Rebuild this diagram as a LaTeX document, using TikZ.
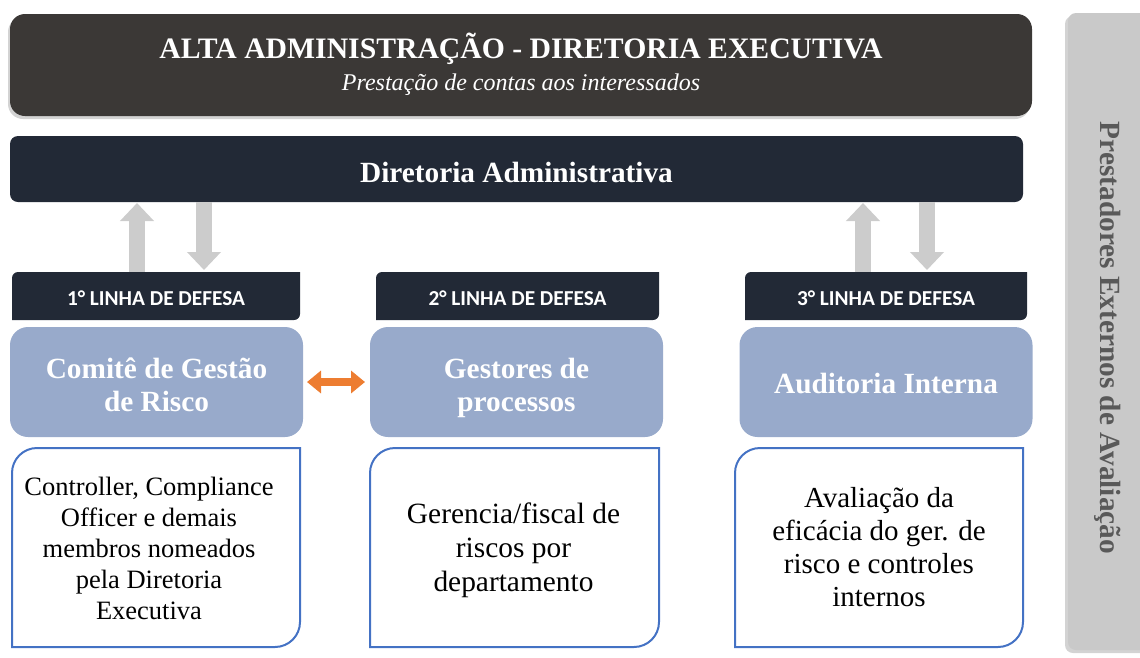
\documentclass[tikz,border=0pt]{standalone}
\usepackage{fontspec}
\setmainfont{Liberation Serif}
\newfontfamily\hdrfont{Carlito}
\usepackage{xcolor}
\definecolor{altagray}{RGB}{59, 56, 54}
\definecolor{admnavy}{RGB}{34, 41, 54}
\definecolor{lineblue}{RGB}{152, 170, 203}
\definecolor{frameblue}{RGB}{68, 114, 196}
\definecolor{linkorange}{RGB}{237, 125, 49}
\definecolor{arrowgray}{RGB}{204, 204, 204}
\definecolor{sidegray}{RGB}{201, 201, 201}
\definecolor{sidetext}{RGB}{89, 89, 89}
\usepackage{tikz}
\usetikzlibrary{
    arrows.meta,
    positioning,
    calc,
    shadows
}

\begin{document}
\begin{tikzpicture}[x=1pt, y=-1pt,
    every node/.style={inner sep=0pt, outer sep=0pt},
    whitetitle/.style={text=white, font=\bfseries\fontsize{29.3}{33}\selectfont, align=center},
    hdrtext/.style={text=white, font=\hdrfont\bfseries\fontsize{21.3}{24}\selectfont},
    linebox/.style={fill=lineblue, rounded corners=18pt, minimum width=293pt, minimum height=110pt},
    linename/.style={whitetitle, text depth=0pt},
    grayarrow/.style={draw=arrowgray, line width=16pt, -{Triangle[length=18pt, width=33pt]}},
    linkarrow/.style={draw=linkorange, line width=8pt, {Triangle[length=14pt, width=22pt]}-{Triangle[length=14pt, width=22pt]}},
    softshadow/.style={drop shadow={shadow xshift=#1, shadow yshift=-3pt, opacity=0.35}}
]
    \useasboundingbox (0,0) rectangle (1140,657);

    % Top banner
    \node[fill=altagray, rounded corners=15pt, minimum width=1022pt, minimum height=102pt, softshadow=-2pt] (alta) at (521,65) {};
    \node[whitetitle, font=\bfseries\fontsize{29.7}{33}\selectfont, anchor=base] (altatitle) at (521,58.5) {ALTA ADMINISTRAÇÃO - DIRETORIA EXECUTIVA};
    \node[text=white, font=\itshape\fontsize{24}{24}\selectfont, anchor=base] (altasub) at (521,90.5) {Prestação de contas aos interessados};

    % Diretoria Administrativa
    \node[fill=admnavy, rounded corners=8pt, minimum width=1013pt, minimum height=66pt] (diradm) at (516.5,169) {};
    \node[whitetitle, anchor=base] (diradmtext) at (516.5,182) {Diretoria Administrativa};

    % Lines of defence (headers)
    \foreach \n/\xa/\xb in {1/12/300, 2/376/659, 3/745/1027} {
        \pgfmathsetmacro{\cx}{(\xa+\xb)/2}
        \pgfmathsetmacro{\hw}{\xb-\xa}
        \fill[admnavy] (\xa,320) -- (\xa,278) arc[start angle=180, end angle=270, radius=6]
            -- (\xb,272) -- (\xb,314) arc[start angle=0, end angle=90, radius=6] -- cycle;
        \node[minimum width=\hw pt, minimum height=48pt] (hdr\n) at (\cx,296) {};
        \node[hdrtext, anchor=base] (hdrtext\n) at (\cx,305.7) {\n° LINHA DE DEFESA};
    }

    % Gray arrows
    \coordinate (up1) at ([xshift=-19pt]hdr1.north);
    \coordinate (dn1) at ([xshift=48pt]hdr1.north);
    \coordinate (up3) at ([xshift=-23pt]hdr3.north);
    \coordinate (dn3) at ([xshift=41pt]hdr3.north);
    \draw[grayarrow, shorten >=1pt] (up1) -- (up1 |- diradm.south);
    \draw[grayarrow, shorten >=2pt] (dn1 |- diradm.south) -- (dn1);
    \draw[grayarrow, shorten >=1pt] (up3) -- (up3 |- diradm.south);
    \draw[grayarrow, shorten >=2pt] (dn3 |- diradm.south) -- (dn3);

    % Blue boxes
    \node[linebox] (risk) at (156.5,382) {};
    \node[linebox] (proc) at (516.5,382) {};
    \node[linebox] (audit) at (886,382) {};
    \node[linename] (riskname) at (156.5,384.5) {Comitê de Gestão\\de Risco};
    \node[linename] (procname) at (516.5,384.5) {Gestores de\\processos};
    \node[linename] (auditname) at (886,383.5) {Auditoria Interna};

    \draw[linkarrow, shorten <=4pt, shorten >=5pt] (risk) -- (proc);

    % Description frames
    \foreach \xa/\xb in {12/300, 370/659, 735/1023} {
        \draw[frameblue, line width=2pt] (\xa,647) -- (\xa,473) arc[start angle=180, end angle=270, radius=25]
            -- (\xb,448) -- (\xb,622) arc[start angle=0, end angle=90, radius=25] -- cycle;
    }
    \node[align=center, font=\fontsize{26.5}{31}\selectfont] (desc1) at (149,548)
        {Controller, Compliance\\Officer e demais\\membros nomeados\\pela Diretoria\\Executiva};
    \node[align=center, font=\fontsize{29.4}{34}\selectfont] (desc2) at (513.5,550)
        {Gerencia/fiscal de\\riscos por\\departamento};
    \node[align=center, font=\fontsize{29}{33}\selectfont] (desc3) at (879,547.5)
        {Avaliação da\\eficácia do ger. de\\risco e controles\\internos};

    % Side bar
    \node[fill=sidegray, rounded corners=8pt, minimum width=90pt, minimum height=637pt, softshadow=-3pt] (sidebar) at (1113,331.5) {};
    \node[rotate=-90, text=sidetext, font=\bfseries\fontsize{29.3}{30}\selectfont] (sidelabel) at (1108,338) {Prestadores Externos de Avaliação};
\end{tikzpicture}
\end{document}
